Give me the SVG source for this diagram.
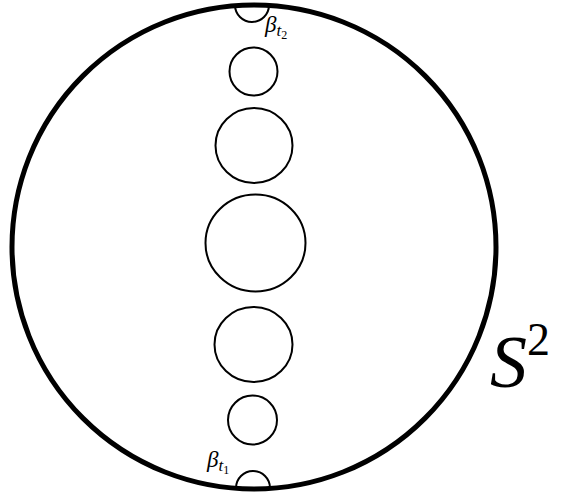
<svg xmlns="http://www.w3.org/2000/svg" width="567" height="494" viewBox="0 0 567 494">
<style>
.thin{fill:none;stroke:#000;stroke-width:2}
.main{fill:none;stroke:#000;stroke-width:5}
text{font-family:'Liberation Serif','Times New Roman',serif;fill:#000}
.it{font-style:italic}
</style>
<rect width="567" height="494" fill="#fff"/>
<g id="sphere">
<circle class="main" cx="254" cy="247" r="242"/>
</g>
<g id="beta-t2">
<path class="thin" d="M235 5 A17 17 0 0 0 269 5"/>
</g>
<g id="beta-t1">
<path class="thin" d="M236 488 A17 17 0 0 1 270 488"/>
</g>
<g id="c1"><circle class="thin" cx="253.5" cy="71.5" r="24"/></g>
<g id="c2"><ellipse class="thin" cx="254" cy="145.5" rx="38.5" ry="37.5"/></g>
<g id="c3"><ellipse class="thin" cx="255.5" cy="243" rx="50" ry="48.5"/></g>
<g id="c4"><ellipse class="thin" cx="253.5" cy="344.5" rx="39" ry="37.5"/></g>
<g id="c5"><circle class="thin" cx="252.5" cy="420" r="24.5"/></g>
<g id="labels">
<text class="it" x="265" y="32" font-size="23">β<tspan font-size="17" dy="4">t</tspan><tspan font-size="12" font-style="normal" dy="3">2</tspan></text>
<text class="it" x="207" y="467" font-size="23">β<tspan font-size="17" dy="4">t</tspan><tspan font-size="12" font-style="normal" dy="3">1</tspan></text>
<text class="it" x="490" y="387" font-size="74">S<tspan font-size="46" font-style="normal" dy="-32">2</tspan></text>
</g>
</svg>
